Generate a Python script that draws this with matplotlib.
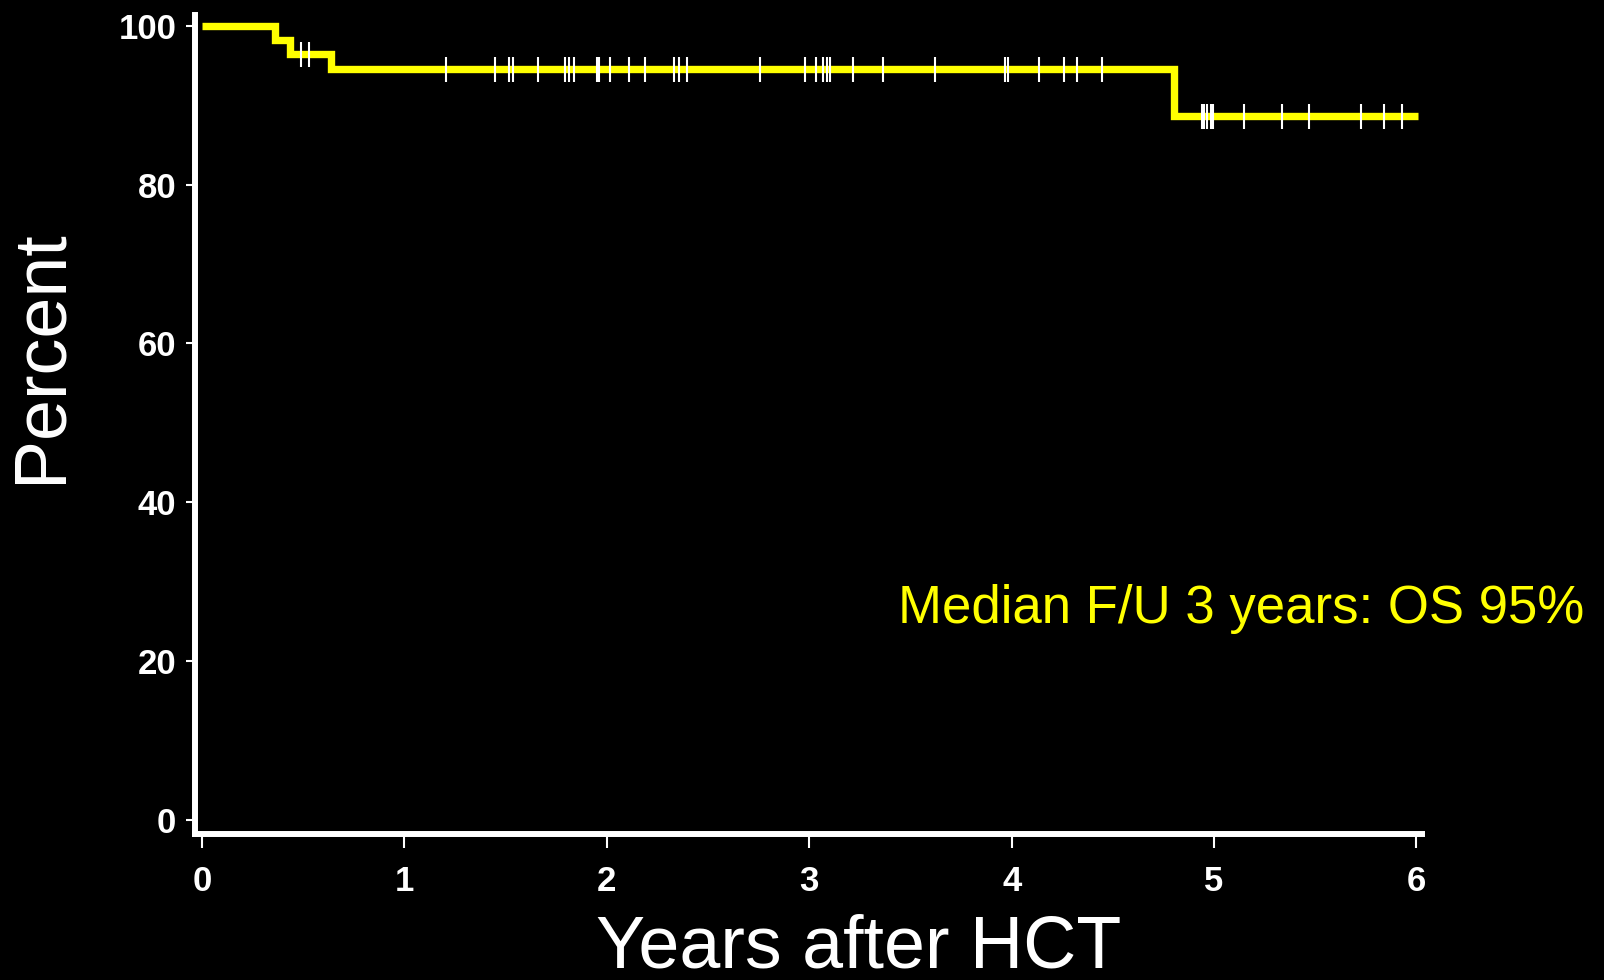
import matplotlib.pyplot as plt
import numpy as np

# Kaplan-Meier step curve (years, percent)
step_times = [0, 0.36, 0.435, 0.636, 4.80, 6.01]
step_surv = [100, 98.2, 96.4, 94.5, 88.7, 88.7]

# censored observations (years)
censor_times = [0.487, 0.53,
                1.204, 1.449, 1.518, 1.535, 1.662, 1.793, 1.815, 1.838, 1.953, 1.961,
                2.016, 2.111, 2.190, 2.332, 2.355, 2.395, 2.757, 2.979, 3.034, 3.067,
                3.086, 3.103, 3.218, 3.366, 3.622, 3.967, 3.984, 4.135, 4.259, 4.321,
                4.445,
                4.939, 4.952, 4.967, 4.983, 4.997, 5.150, 5.336, 5.468, 5.725, 5.840,
                5.927]

x_ticks = [0, 1, 2, 3, 4, 5, 6]
y_ticks = [0, 20, 40, 60, 80, 100]

annotation = "Median F/U 3 years: OS 95%"

plt.rcParams['font.family'] = ['Liberation Sans', 'DejaVu Sans']

fig = plt.figure(figsize=(16.04, 9.8), dpi=100, facecolor='black')
ax = fig.add_axes([0.1216, 0.149, 0.765, 0.836])
ax.set_facecolor('black')

ax.step(step_times, step_surv, where='post', color='#ffff00', linewidth=5.3,
        solid_capstyle='butt', solid_joinstyle='miter', zorder=2)

# height of the curve at each censor time
idx = np.searchsorted(step_times, censor_times, side='right') - 1
censor_surv = np.array(step_surv)[idx]
ax.plot(censor_times, censor_surv, linestyle='none', marker='|', markersize=18,
        markeredgewidth=1.5, color='white', zorder=3)

ax.set_xlim(-0.0346, 6.028)
ax.set_ylim(-1.76, 101.4)
ax.set_xticks(x_ticks)
ax.set_yticks(y_ticks)
ax.set_xticklabels([str(v) for v in x_ticks], fontsize=25, fontweight='bold', color='white')
ax.set_yticklabels([str(v) for v in y_ticks], fontsize=25, fontweight='bold', color='white')
ax.tick_params(axis='x', colors='white', length=10, width=1.5, pad=12)
ax.tick_params(axis='y', colors='white', length=6.5, width=1.5, pad=7)

for side in ['top', 'right']:
    ax.spines[side].set_visible(False)
for side in ['left', 'bottom']:
    ax.spines[side].set_color('white')
    ax.spines[side].set_linewidth(4.3)

fig.text(41 / 1604, 1 - 356 / 980, 'Percent', rotation=90, fontsize=53,
         color='white', ha='center', va='center')
fig.text(859 / 1604, 1 - 948 / 980, 'Years after HCT', fontsize=53,
         color='white', ha='center', va='center')
fig.text(898 / 1604, 1 - 609 / 980, annotation, fontsize=38,
         color='#ffff00', ha='left', va='center')

fig.savefig('out.png', dpi=100, facecolor='black')
